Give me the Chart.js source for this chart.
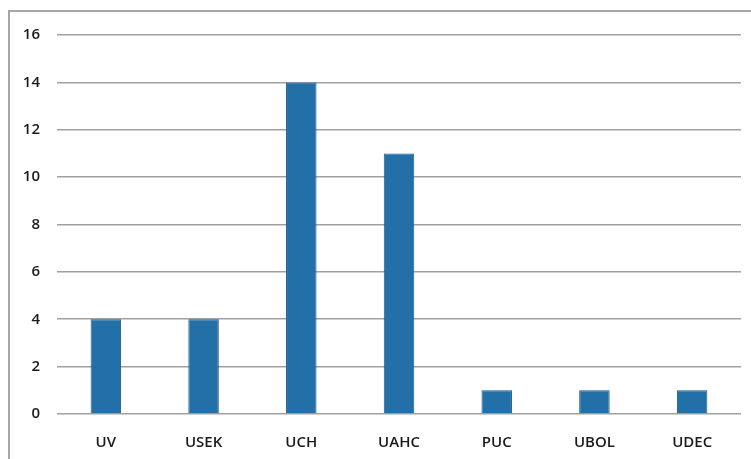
<!DOCTYPE html>
<html>
<head>
<meta charset="utf-8">
<script src="https://cdn.jsdelivr.net/npm/chart.js@4"></script>
<style>
  html, body { margin: 0; padding: 0; background: #fff; }
  #wrap { position: relative; width: 751px; height: 459px; overflow: hidden; }
  #frame { position: absolute; left: 8px; top: 10px; width: 760px; height: 460px;
           border-left: 2px solid #a6a6a6; border-top: 2px solid #a6a6a6; }
  canvas { position: absolute; left: 0; top: 0; }
</style>
</head>
<body>
<div id="wrap">
  <div id="frame"></div>
  <canvas id="chart" width="751" height="459"></canvas>
</div>
<script>
// Universities and their counts
const categories = ['UV', 'USEK', 'UCH', 'UAHC', 'PUC', 'UBOL', 'UDEC'];
const counts = [4, 4, 14, 11, 1, 1, 1];
const yTicks = [0, 2, 4, 6, 8, 10, 12, 14, 16];

const fontFamily = "'Open Sans', 'Liberation Sans', sans-serif";

new Chart(document.getElementById('chart'), {
  type: 'bar',
  data: {
    labels: categories,
    datasets: [{
      data: counts,
      backgroundColor: '#2270a7',
      borderColor: '#1b5a88',
      borderWidth: 1,
      barPercentage: 0.6,
      categoryPercentage: 0.52,
    }],
  },
  options: {
    responsive: false,
    animation: false,
    layout: { padding: { left: 0, right: 10, top: 35, bottom: 0 } },
    plugins: { legend: { display: false }, tooltip: { enabled: false } },
    scales: {
      x: {
        grid: { display: false },
        border: { display: false },
        ticks: {
          color: '#1a1a1a',
          padding: 12,
          font: { family: fontFamily, size: 15, weight: '600' },
        },
        afterFit: (scale) => { scale.height = 45; },
      },
      y: {
        min: 0,
        max: 16,
        afterBuildTicks: (scale) => { scale.ticks = yTicks.map(v => ({ value: v })); },
        grid: { color: '#a0a0a0', lineWidth: 1.6, drawTicks: false },
        border: { display: false },
        ticks: {
          color: '#1a1a1a',
          padding: 17,
          font: { family: fontFamily, size: 15, weight: '600' },
        },
        afterFit: (scale) => { scale.width = 57; },
      },
    },
  },
});
</script>
</body>
</html>
